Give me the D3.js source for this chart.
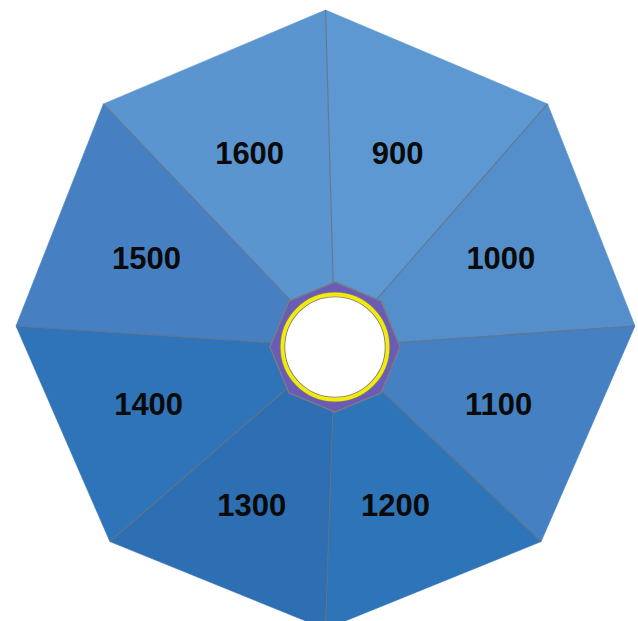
<!DOCTYPE html>
<html>
<head>
<meta charset="utf-8">
<script src="https://cdn.jsdelivr.net/npm/d3@7"></script>
<style>
  html, body { margin: 0; padding: 0; background: #ffffff; }
  svg { display: block; }
</style>
</head>
<body>
<div id="chart"></div>
<script>
// ---- data ----
const categories = ["900", "1000", "1100", "1200", "1300", "1400", "1500", "1600"];
const values = [1, 1, 1, 1, 1, 1, 1, 1];   // equal shares: each face is one eighth
const faceColors = ["#5e98d2", "#558fcb", "#4580c2", "#2e74b8", "#2e6fb3", "#2f74b8", "#4680c2", "#5b95d0"];

// ---- layout ----
const W = 638, H = 621;
const base = { x: 325.5, y: 326 };     // centre of the pyramid's base
const apex = { x: 335, y: 347 };       // projected apex (hole centre)
const R = 309.5;                        // base circumradius
const tilt = 6.5;                       // perspective: far (top) side slightly larger

const svg = d3.select("#chart").append("svg")
  .attr("width", W).attr("height", H)
  .attr("viewBox", `0 0 ${W} ${H}`);

const color = d3.scaleOrdinal().domain(categories).range(faceColors);
const rScale = d3.scaleLinear().domain([0, 1]).range([0, R]);

const pie = d3.pie().sort(null).value(d => d.value);
const arcs = pie(categories.map((c, i) => ({ cat: c, value: values[i] })));

function basePoint(angle, v) {
  const r = rScale(v) + tilt * Math.cos(angle);
  return [base.x + r * Math.sin(angle), base.y - r * Math.cos(angle)];
}

const faces = arcs.map(a => {
  const p0 = basePoint(a.startAngle, 1);
  const p1 = basePoint(a.endAngle, 1);
  return { cat: a.data.cat, pts: [[apex.x, apex.y], p0, p1], start: p0 };
});

const g = svg.append("g");

// faces
g.selectAll("path.face").data(faces).join("path")
  .attr("class", "face")
  .attr("d", d => "M" + d.pts.map(p => p.join(",")).join("L") + "Z")
  .attr("fill", d => color(d.cat))
  .attr("stroke", d => color(d.cat))
  .attr("stroke-width", 0.6)
  .attr("stroke-linejoin", "round");

// divider edges from apex to each base vertex
g.selectAll("line.edge").data(faces).join("line")
  .attr("class", "edge")
  .attr("x1", apex.x).attr("y1", apex.y)
  .attr("x2", d => d.start[0]).attr("y2", d => d.start[1])
  .attr("stroke", "#66727f")
  .attr("stroke-width", 1.1)
  .attr("stroke-opacity", 0.85);

// small purple octagon around the apex
const hubR = 65;
const hubPts = arcs.map(a => [apex.x + hubR * Math.sin(a.startAngle), apex.y - hubR * Math.cos(a.startAngle)]);
g.append("polygon")
  .attr("points", hubPts.map(p => p.join(",")).join(" "))
  .attr("fill", "#6a5bb6")
  .attr("stroke", "#7a7a86")
  .attr("stroke-width", 1.5);

// hole with yellow ring
g.append("circle")
  .attr("cx", apex.x).attr("cy", apex.y).attr("r", 52.5)
  .attr("fill", "#ffffff")
  .attr("stroke", "#7c7c70")
  .attr("stroke-width", 5.5);
g.append("circle")
  .attr("cx", apex.x).attr("cy", apex.y).attr("r", 52.5)
  .attr("fill", "none")
  .attr("stroke", "#f4ea10")
  .attr("stroke-width", 3.8);

// labels at face centroids
g.selectAll("text.lbl").data(faces).join("text")
  .attr("class", "lbl")
  .attr("x", d => d3.polygonCentroid(d.pts)[0] - 5)
  .attr("y", d => d3.polygonCentroid(d.pts)[1])
  .attr("text-anchor", "middle")
  .attr("dominant-baseline", "central")
  .attr("font-family", "'Liberation Sans', Arial, sans-serif")
  .attr("font-weight", "bold")
  .attr("font-size", "31px")
  .attr("fill", "#0a0a0a")
  .text(d => d.cat);
</script>
</body>
</html>
